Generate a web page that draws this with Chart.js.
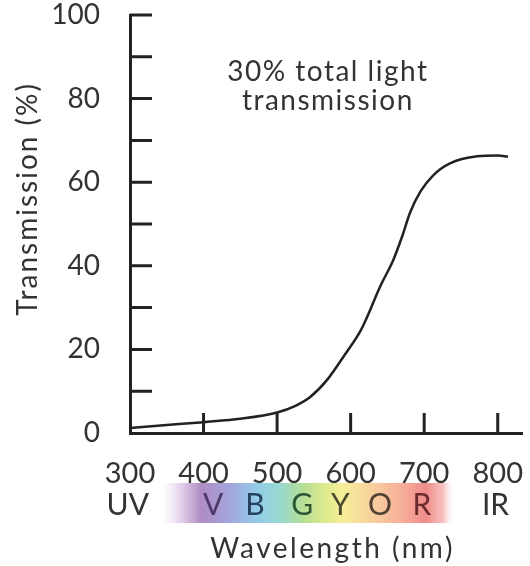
<!DOCTYPE html>
<html>
<head>
<meta charset="utf-8">
<script src="https://cdn.jsdelivr.net/npm/chart.js@4.4.1/dist/chart.umd.min.js"></script>
<style>
  body { margin: 0; background: #fff; }
  canvas { display: block; }
</style>
</head>
<body>
<canvas id="canvas-trans" width="530" height="566"></canvas>
<script>
// curve (nm, %)
var wavelengths = [300, 350, 400, 450, 500, 525, 545, 568, 590, 613, 622, 640, 658, 670, 681, 695, 712, 735, 772, 800, 814];
var transmission = [1.2, 1.9, 2.6, 3.4, 4.9, 6.5, 8.6, 12.7, 18.2, 24.3, 27.6, 35, 41.4, 47, 52.8, 57.8, 61.6, 64.5, 66.2, 66.4, 66.1];

var xTicks = [300, 400, 500, 600, 700, 800];
var yTicks = [0, 20, 40, 60, 80, 100];
var yMinorTicks = [10, 20, 30, 40, 50, 60, 70, 80, 90, 100];

var bandLetters = ['V', 'B', 'G', 'Y', 'O', 'R'];
var bandLetterNm = [413, 470, 534, 586, 640, 697];
var sideLabels = ['UV', 'IR'];
var sideLabelNm = [297, 797];
var bandRange = [345, 742];

var note = ['30% total light', 'transmission'];

var FONT = 'Lato, "Open Sans", sans-serif';
var INK = '#333';

var extras = {
    id: 'extras',
    afterDraw: function(chart){
        var ctx = chart.ctx;
        var xs = chart.scales.x, ys = chart.scales.y;
        var ca = chart.chartArea;
        ctx.save();

        // inward tick marks
        ctx.strokeStyle = '#222';
        ctx.lineWidth = 3;
        ctx.beginPath();
        xTicks.forEach(function(v){
            if (v === xs.min) return;
            var x = xs.getPixelForValue(v);
            ctx.moveTo(x, ca.bottom);
            ctx.lineTo(x, ca.bottom - 20);
        });
        yMinorTicks.forEach(function(v){
            var y = ys.getPixelForValue(v);
            ctx.moveTo(ca.left, y);
            ctx.lineTo(ca.left + 22, y);
        });
        ctx.stroke();

        // spectrum band
        var b0 = xs.getPixelForValue(bandRange[0]);
        var b1 = xs.getPixelForValue(bandRange[1]);
        var g = ctx.createLinearGradient(b0, 0, b1, 0);
        var stops = [
            [0.00, 'rgba(232,216,239,0)'],
            [0.06, '#e4d2ec'],
            [0.13, '#b08cc4'],
            [0.22, '#a3a3da'],
            [0.32, '#93cbe9'],
            [0.40, '#97d9cf'],
            [0.48, '#b6df95'],
            [0.56, '#e0ea8e'],
            [0.61, '#f5ef98'],
            [0.72, '#f8cf9e'],
            [0.82, '#f6ad98'],
            [0.90, '#f08c8a'],
            [0.96, '#f6c4c2'],
            [1.00, 'rgba(255,255,255,0)']
        ];
        stops.forEach(function(s){ g.addColorStop(s[0], s[1]); });
        ctx.fillStyle = g;
        ctx.fillRect(b0, 483, b1 - b0, 40);

        var letterColors = ['#4d3866', '#24415e', '#2f5535', '#4a4a2c', '#4f4233', '#6b2a2c'];
        ctx.font = '30px ' + FONT;
        ctx.textAlign = 'center';
        ctx.textBaseline = 'alphabetic';
        bandLetters.forEach(function(t, i){
            ctx.fillStyle = letterColors[i];
            ctx.fillText(t, xs.getPixelForValue(bandLetterNm[i]), 515);
        });
        ctx.fillStyle = INK;
        sideLabels.forEach(function(t, i){
            ctx.fillText(t, xs.getPixelForValue(sideLabelNm[i]), 515);
        });

        // axis titles
        ctx.font = '28px ' + FONT;
        ctx.letterSpacing = '2.5px';
        ctx.fillText('Wavelength (nm)', xs.getPixelForValue(574) + 1, 558);

        ctx.save();
        ctx.translate(37, ys.getPixelForValue(56));
        ctx.rotate(-Math.PI / 2);
        ctx.font = '28px ' + FONT;
        ctx.letterSpacing = '2px';
        ctx.fillText('Transmission (%)', 0, 0);
        ctx.restore();

        // note
        ctx.font = '28px ' + FONT;
        ctx.letterSpacing = '1.5px';
        ctx.fillStyle = INK;
        ctx.fillText(note[0], xs.getPixelForValue(569), 81);
        ctx.fillText(note[1], xs.getPixelForValue(569), 110);
        ctx.letterSpacing = '0px';

        ctx.restore();
    }
};

var config = {
    type: 'line',
    data: {
        datasets: [{
            data: wavelengths.map(function(w, i){ return {x: w, y: transmission[i]}; }),
            borderColor: '#222',
            borderWidth: 2.5,
            pointRadius: 0,
            cubicInterpolationMode: 'monotone',
            fill: false
        }]
    },
    options: {
        responsive: false,
        animation: false,
        layout: { padding: { top: 15, right: 8, left: 0, bottom: 0 } },
        plugins: { legend: { display: false }, tooltip: { enabled: false } },
        scales: {
            x: {
                type: 'linear',
                min: 300,
                max: 833,
                grid: { display: false },
                border: { display: true, color: '#222', width: 3 },
                afterBuildTicks: function(s){ s.ticks = xTicks.map(function(v){ return {value: v}; }); },
                afterFit: function(s){ s.height = 133; s.paddingLeft = 0; s.paddingRight = 0; },
                ticks: { color: INK, font: { family: FONT, size: 29 }, padding: 15, maxRotation: 0, autoSkip: false }
            },
            y: {
                min: 0,
                max: 100,
                grid: { display: false },
                border: { display: true, color: '#222', width: 3 },
                afterBuildTicks: function(s){ s.ticks = yTicks.map(function(v){ return {value: v}; }); },
                afterFit: function(s){ s.width = 130; s.paddingTop = 0; s.paddingBottom = 0; },
                ticks: { color: INK, font: { family: FONT, size: 28 }, padding: 22 }
            }
        }
    },
    plugins: [extras]
};

var transChart = new Chart(document.getElementById('canvas-trans'), config);
</script>
</body>
</html>
